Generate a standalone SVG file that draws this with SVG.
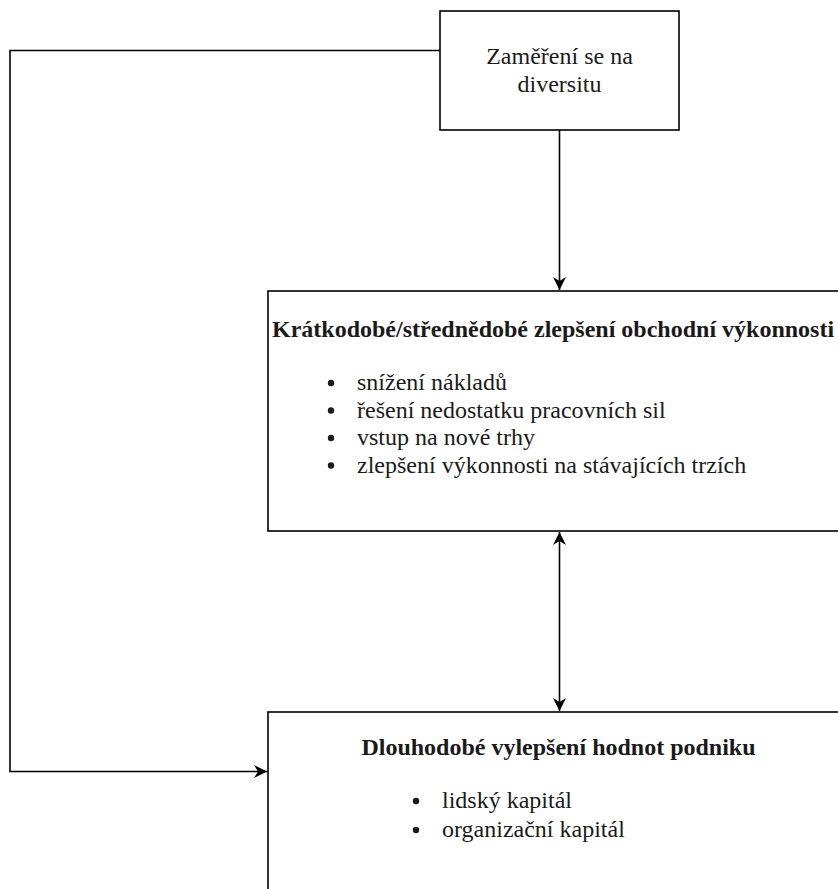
<svg xmlns="http://www.w3.org/2000/svg" width="838" height="889" viewBox="0 0 838 889" font-family="Liberation Serif, serif" font-size="24">
  <style>
    .box { fill: #ffffff; stroke: #000000; stroke-width: 1.6; }
    .txt { fill: #1a1a1a; }
    .bold { font-weight: bold; }
    .dot { fill: #1a1a1a; }
    .conn { fill: none; stroke: #000000; stroke-width: 1.6; }
  </style>
  <defs>
    <marker id="arrow" viewBox="0 0 14 14" refX="13" refY="7" markerWidth="14" markerHeight="14" markerUnits="userSpaceOnUse" orient="auto-start-reverse">
      <path d="M13,7 L0,0.5 L4,7 L0,13.5 Z" fill="#000000"/>
    </marker>
  </defs>
  <rect width="838" height="889" fill="#ffffff"/>

  <g id="node-diversita">
    <rect class="box" x="440" y="11" width="239" height="119"/>
    <text class="txt" font-family="Liberation Serif" x="559.5" y="64" text-anchor="middle">Zaměření se na</text>
    <text class="txt" font-family="Liberation Serif" x="559.5" y="92" text-anchor="middle">diversitu</text>
  </g>

  <g id="node-kratkodobe">
    <rect class="box" x="268" y="291" width="590" height="240"/>
    <text class="txt bold" font-family="Liberation Serif" x="272" y="337">Krátkodobé/střednědobé zlepšení obchodní výkonnosti</text>
    <circle class="dot" cx="331" cy="383" r="3.2"/>
    <text class="txt" font-family="Liberation Serif" x="357" y="390">snížení nákladů</text>
    <circle class="dot" cx="331" cy="410.5" r="3.2"/>
    <text class="txt" font-family="Liberation Serif" x="357" y="417.5">řešení nedostatku pracovních sil</text>
    <circle class="dot" cx="331" cy="438" r="3.2"/>
    <text class="txt" font-family="Liberation Serif" x="357" y="445">vstup na nové trhy</text>
    <circle class="dot" cx="331" cy="465.5" r="3.2"/>
    <text class="txt" font-family="Liberation Serif" x="357" y="472.5">zlepšení výkonnosti na stávajících trzích</text>
  </g>

  <g id="node-dlouhodobe">
    <rect class="box" x="268" y="712" width="590" height="200"/>
    <text class="txt bold" font-family="Liberation Serif" x="558.5" y="755" text-anchor="middle">Dlouhodobé vylepšení hodnot podniku</text>
    <circle class="dot" cx="416" cy="801" r="3.2"/>
    <text class="txt" font-family="Liberation Serif" x="442" y="808">lidský kapitál</text>
    <circle class="dot" cx="416" cy="830" r="3.2"/>
    <text class="txt" font-family="Liberation Serif" x="442" y="837">organizační kapitál</text>
  </g>

  <g id="connectors">
    <path class="conn" d="M559.5,130 L559.5,290" marker-end="url(#arrow)"/>
    <path class="conn" d="M559.5,532 L559.5,711" marker-start="url(#arrow)" marker-end="url(#arrow)"/>
    <path class="conn" d="M440,50.5 L10,50.5 L10,771.5 L267,771.5" marker-end="url(#arrow)"/>
  </g>
</svg>
